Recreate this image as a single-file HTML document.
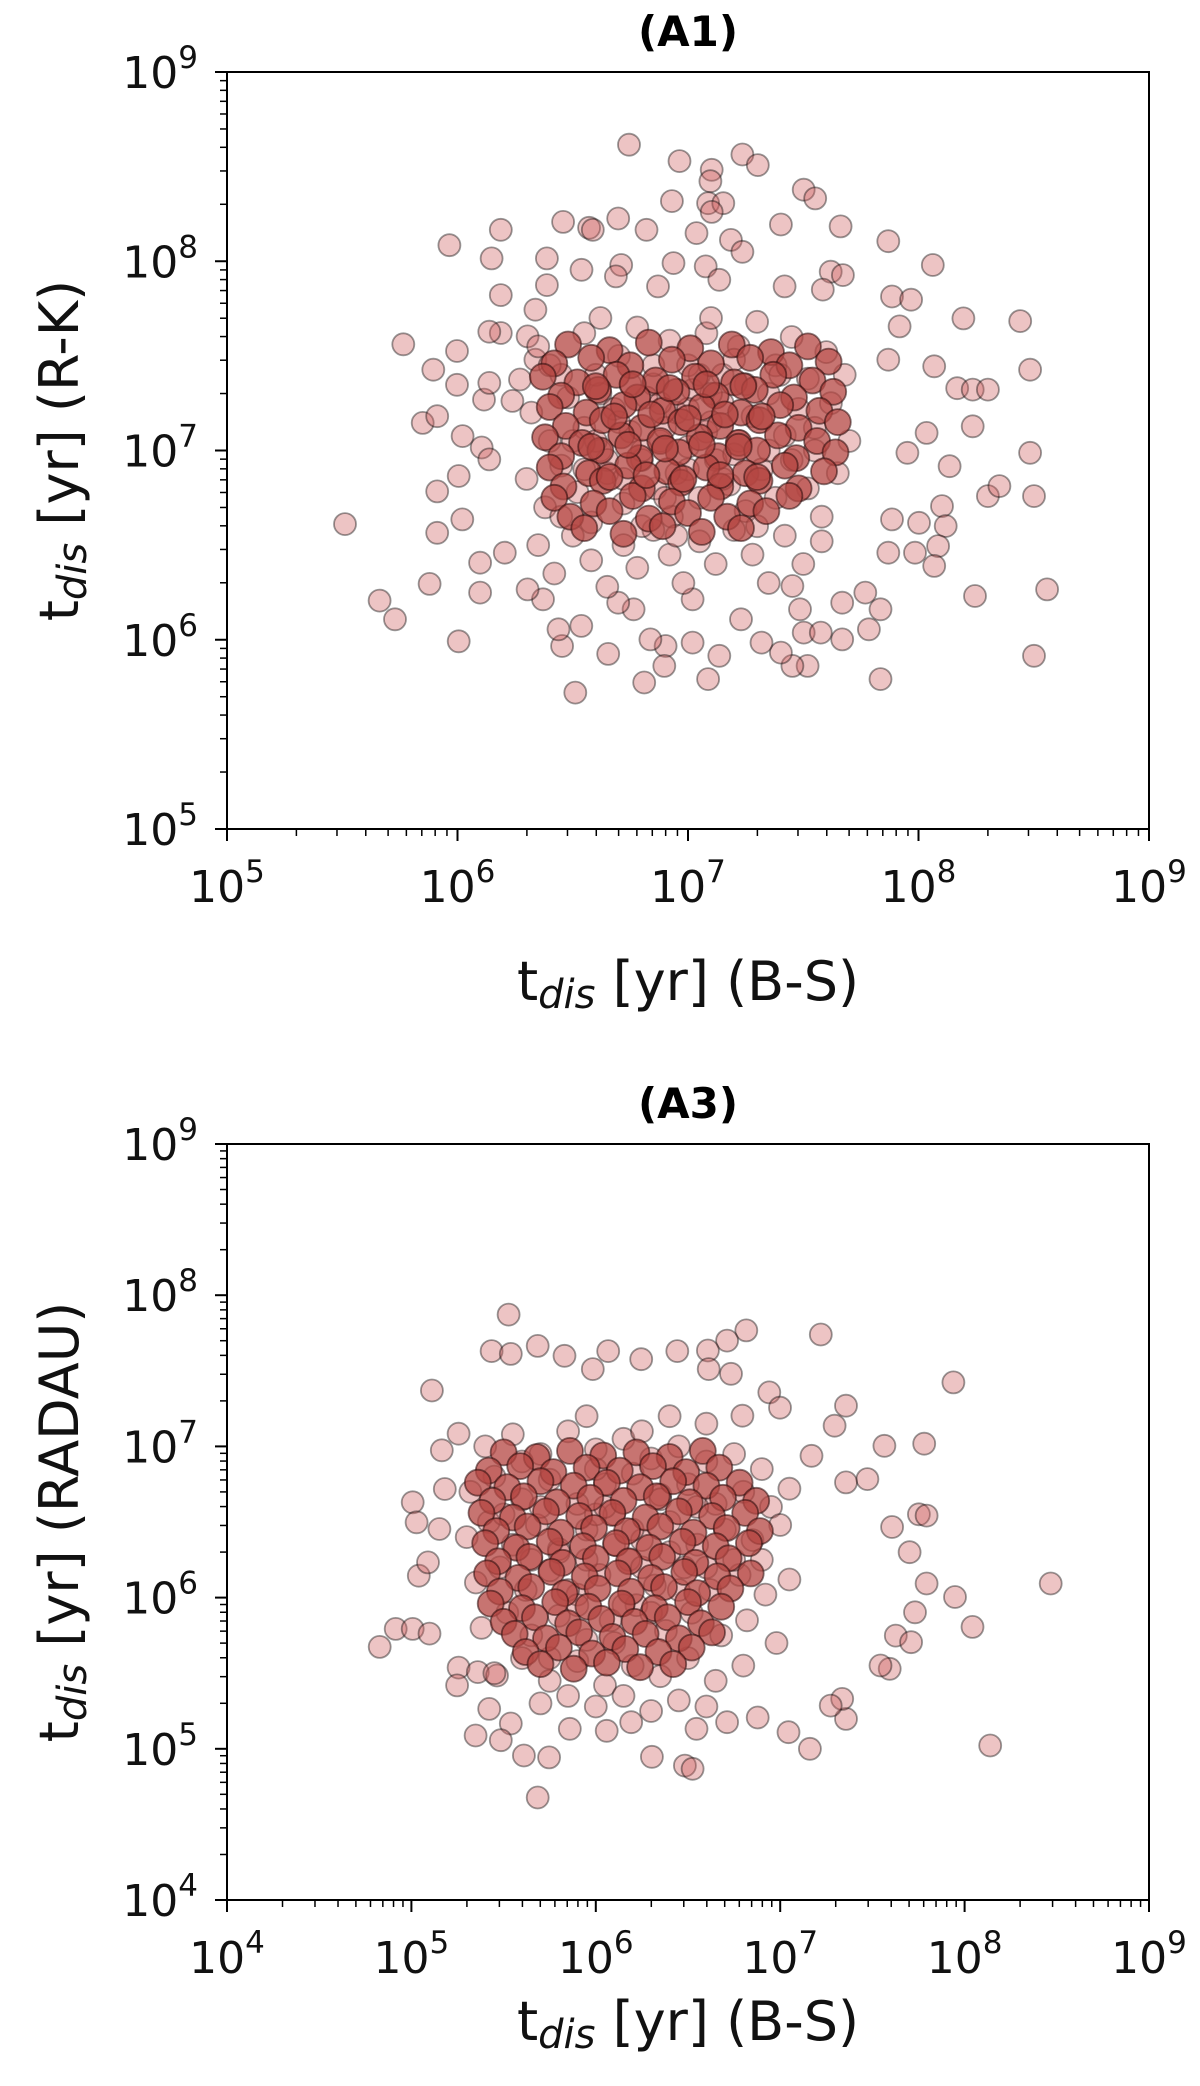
<!DOCTYPE html>
<html><head><meta charset="utf-8">
<style>
html,body{margin:0;padding:0;background:#fff;}
svg{display:block;font-family:"DejaVu Sans","Liberation Sans",sans-serif;}
</style></head>
<body>
<svg id="fig" width="1200" height="2086" viewBox="0 0 1200 2086" xmlns="http://www.w3.org/2000/svg"></svg>
<script>
// ---- Panel A1 data (log10 of t_dis) ----
const a1LogX = [6.744,6.963,7.103,7.236,7.303,7.097,7.502,7.552,6.930,7.087,7.153,7.103,7.403,7.662,6.458,6.571,6.697,6.820,7.037,7.186,7.236,7.869,6.188,5.965,6.148,6.388,6.587,6.710,6.937,7.077,8.062,7.619,7.672,6.188,6.388,6.538,6.687,6.870,7.136,7.419,7.585,7.885,7.968,6.338,5.765,5.998,8.195,8.441,7.918,8.484,7.869,8.168,8.235,8.301,8.068,8.235,8.484,8.501,8.301,8.351,8.135,8.035,7.952,8.102,8.002,8.118,7.885,7.985,8.085,7.869,8.068,8.245,8.558,8.501,7.835,7.785,7.769,7.669,7.835,7.669,7.519,7.502,7.576,7.486,7.453,7.453,7.403,7.319,7.230,7.136,7.087,7.020,7.020,6.903,6.897,6.837,6.810,6.764,6.697,6.654,6.511,6.537,6.454,6.438,6.371,6.304,6.098,6.098,6.205,6.021,5.912,5.912,6.005,5.879,5.662,5.729,5.512,6.005,6.105,6.022,6.138,5.849,5.912,5.998,5.895,6.115,6.138,6.188,6.138,6.238,6.271,6.338,6.304,
6.35,6.45,6.55,6.62,6.70,6.78,6.85,6.92,7.00,7.08,7.15,7.22,7.30,7.38,7.45,7.52,7.60,7.68,
6.32,6.40,6.48,6.55,6.62,6.68,6.75,6.82,6.88,6.95,7.02,7.08,7.15,7.22,7.28,7.35,7.42,7.48,7.55,7.62,7.70,
6.30,6.38,6.45,6.52,6.58,6.65,6.72,6.80,6.86,6.93,7.00,7.05,7.12,7.18,7.25,7.32,7.38,7.45,7.52,7.58,7.65,
6.35,6.42,6.50,6.58,6.65,6.72,6.78,6.85,6.92,6.98,7.05,7.12,7.20,7.28,7.35,7.42,7.50,7.58,
6.60,6.70,6.80,6.90,7.00,7.10,7.20,6.65,6.75,6.95,7.05,7.15,7.25,6.85,6.55,7.35,6.90,7.00,6.72,7.10,6.60,7.40,6.50,7.30,6.80,6.45,7.55,6.40,6.62,7.10,6.95,7.20,6.88];
const a1LogY = [8.616,8.529,8.483,8.564,8.508,8.423,8.378,8.332,8.318,8.307,8.307,8.261,8.194,8.184,8.208,8.177,8.226,8.166,8.149,8.113,8.050,8.106,8.166,8.085,8.015,8.015,8.166,7.980,7.990,7.973,7.980,7.945,7.927,7.821,7.874,7.955,7.920,7.867,7.902,7.867,7.850,7.814,7.797,7.744,7.561,7.526,7.698,7.684,7.656,7.427,7.480,7.329,7.322,7.322,7.445,7.128,6.988,6.759,6.759,6.812,6.917,7.093,6.988,6.706,6.618,6.601,6.636,6.460,6.495,6.460,6.390,6.231,6.266,5.915,6.161,6.055,6.249,6.196,5.792,6.002,5.862,6.038,6.038,6.161,6.284,5.862,5.932,5.985,6.108,5.915,5.792,5.985,6.214,5.967,5.862,6.002,5.774,6.161,6.196,5.925,5.721,6.073,5.967,6.055,6.214,6.266,6.249,6.407,6.460,6.636,6.565,6.784,5.992,6.295,6.207,6.108,6.611,6.865,7.016,7.076,6.953,7.146,7.181,7.347,7.427,7.269,7.357,7.621,7.628,7.262,7.375,7.480,7.603,
7.55,7.40,7.62,7.30,7.50,7.65,7.35,7.58,7.45,7.62,7.40,7.55,7.68,7.45,7.60,7.38,7.52,7.40,
7.20,7.05,7.28,7.12,7.00,7.22,7.10,7.28,7.05,7.20,7.32,7.10,7.25,7.05,7.18,7.30,7.08,7.22,7.12,7.25,7.05,
6.85,6.70,6.92,6.78,6.62,6.88,6.72,6.95,6.80,6.65,6.90,6.75,6.95,6.82,6.68,6.90,6.75,6.95,6.80,6.65,6.88,
6.50,6.35,6.55,6.42,6.28,6.50,6.38,6.58,6.45,6.30,6.52,6.40,6.58,6.45,6.30,6.55,6.40,6.52,
7.05,7.15,7.00,7.12,7.02,7.15,6.98,6.95,7.35,6.88,7.40,6.85,7.35,7.45,6.90,7.00,6.75,7.22,6.85,7.30,7.40,7.40,7.05,6.60,6.60,6.65,7.00,7.45,7.70,7.70,6.55,7.48,7.25];
// dense (heavily overlapped) core of A1
const a1DenseX = [6.48,6.66,6.83,7.01,7.19,7.36,7.52,
6.42,6.58,6.75,6.93,7.10,7.27,7.44,7.61,
6.37,6.52,6.69,6.86,7.03,7.20,7.37,7.54,
6.45,6.61,6.78,6.95,7.12,7.29,7.46,7.63,
6.40,6.56,6.72,6.89,7.06,7.23,7.40,7.57,
6.47,6.63,6.80,6.97,7.14,7.31,7.48,7.65,
6.38,6.54,6.71,6.88,7.05,7.22,7.39,7.56,
6.45,6.62,6.79,6.96,7.13,7.30,7.47,7.64,
6.40,6.57,6.74,6.91,7.08,7.25,7.42,7.59,
6.46,6.63,6.80,6.97,7.14,7.31,7.48,
6.42,6.59,6.76,6.93,7.10,7.27,7.44,
6.49,6.66,6.83,7.00,7.17,7.34,
6.55,6.72,6.89,7.06,7.23,
6.60,6.76,6.92,7.08,7.24,6.68,6.84,7.00,7.16,7.32,6.58,6.74,6.90,7.06,7.22,6.66,6.82,6.98,7.14,7.30];
const a1DenseY = [7.56,7.53,7.57,7.54,7.56,7.52,7.55,
7.46,7.49,7.45,7.48,7.46,7.49,7.45,7.47,
7.39,7.36,7.40,7.37,7.39,7.36,7.40,7.37,
7.29,7.32,7.28,7.31,7.29,7.32,7.28,7.31,
7.23,7.20,7.24,7.21,7.23,7.20,7.24,7.21,
7.13,7.16,7.12,7.15,7.13,7.16,7.12,7.15,
7.07,7.04,7.08,7.05,7.07,7.04,7.08,7.05,
6.97,7.00,6.96,6.99,6.97,7.00,6.96,6.99,
6.91,6.88,6.92,6.89,6.91,6.88,6.92,6.89,
6.81,6.84,6.80,6.83,6.81,6.84,6.80,
6.75,6.72,6.76,6.73,6.75,6.72,6.76,
6.65,6.68,6.64,6.67,6.65,6.68,
6.59,6.56,6.60,6.57,6.59,
7.34,7.35,7.33,7.35,7.34,7.18,7.19,7.17,7.19,7.18,7.02,7.03,7.01,7.03,7.02,6.86,6.87,6.85,6.87,6.86];

// ---- Panel A3 data (log10 of t_dis) ----
const a3LogX = [5.527,7.220,6.816,6.712,5.685,5.435,5.539,5.830,6.067,6.442,6.608,6.246,5.984,6.733,6.612,7.939,5.111,6.941,7.357,6.795,6.999,7.565,7.781,7.473,5.256,5.165,7.607,7.752,7.794,7.702,7.794,7.948,8.467,8.043,7.731,7.627,7.710,7.594,7.544,8.139,7.357,7.336,7.274,7.161,7.045,6.878,6.712,6.546,6.483,6.525,6.304,6.192,6.059,5.859,5.747,5.685,5.610,5.539,5.485,5.348,4.828,4.915,5.007,5.098,5.040,5.090,5.007,5.028,5.181,5.152,5.256,5.248,5.360,5.464,5.422,7.295,7.170,7.357,
5.40,5.55,5.70,5.85,6.00,6.15,6.30,6.45,6.60,6.75,6.90,
5.32,5.45,5.60,5.75,5.90,6.05,6.20,6.35,6.50,6.65,6.80,6.95,7.05,
5.30,5.42,5.55,5.68,5.80,5.95,6.10,6.25,6.40,6.55,6.70,6.85,7.00,
5.35,5.48,5.62,5.75,5.90,6.02,6.18,6.32,6.48,6.62,6.78,6.92,7.05,
5.38,5.52,5.65,5.80,5.95,6.08,6.22,6.38,6.52,6.68,6.82,6.98,
5.45,5.60,5.75,5.90,6.05,6.20,6.35,6.50,6.65,6.80,
5.70,5.85,6.00,6.15,6.30,6.45,6.60,
5.80,5.95,6.10,6.25,6.00,6.15,5.85,6.40,5.70,6.30,6.05,5.65,6.55,5.90,6.20,6.45,5.75,6.10,6.35,6.00,5.60,6.60,6.75,5.50,6.90,6.25,5.95,6.40,6.60];
const a3LogY = [7.872,7.740,7.767,7.700,7.665,7.630,7.612,7.599,7.630,7.630,7.634,7.577,7.511,7.480,7.511,7.423,7.370,7.357,7.269,7.203,7.256,7.004,7.018,6.784,7.084,6.974,6.467,6.551,6.542,6.300,6.093,6.004,6.093,5.806,5.903,5.749,5.705,5.529,5.551,5.022,5.198,5.330,5.286,5.000,5.110,5.207,5.176,5.132,4.889,4.868,4.947,5.176,5.119,5.132,4.943,4.678,4.956,5.167,5.057,5.088,5.674,5.793,5.793,5.762,6.145,6.233,6.630,6.498,6.718,6.454,5.537,5.419,5.507,5.485,5.264,7.137,6.938,6.762,
7.00,7.08,6.95,7.10,6.98,7.05,6.92,7.00,6.90,6.95,6.85,
6.70,6.80,6.65,6.78,6.62,6.75,6.82,6.68,6.75,6.62,6.70,6.60,6.72,
6.40,6.50,6.35,6.48,6.32,6.45,6.55,6.38,6.50,6.35,6.45,6.38,6.48,
6.10,6.20,6.05,6.18,6.02,6.15,6.25,6.08,6.20,6.05,6.15,6.02,6.12,
5.80,5.90,5.75,5.88,5.72,5.85,5.95,5.78,5.90,5.75,5.85,5.70,
5.50,5.60,5.45,5.58,5.42,5.55,5.48,5.60,5.45,5.55,
5.30,5.35,5.28,5.35,5.25,5.32,5.28,
6.30,6.25,6.35,6.20,6.55,5.95,6.05,6.30,6.60,5.90,6.60,6.25,6.60,5.95,6.45,6.05,5.60,5.70,6.65,6.85,6.90,6.20,6.25,6.55,6.25,7.10,7.20,7.20,7.15];
// dense (heavily overlapped) core of A3
const a3DenseX = [5.50,5.68,5.86,6.04,6.22,6.40,6.58,
5.42,5.59,5.77,5.95,6.13,6.31,6.49,6.67,
5.36,5.52,5.70,5.88,6.06,6.24,6.42,6.60,6.78,
5.44,5.61,5.79,5.97,6.15,6.33,6.51,6.69,6.87,
5.38,5.55,5.73,5.91,6.09,6.27,6.45,6.63,6.81,
5.46,5.63,5.81,5.99,6.17,6.35,6.53,6.71,6.89,
5.40,5.57,5.75,5.93,6.11,6.29,6.47,6.65,6.83,
5.47,5.64,5.82,6.00,6.18,6.36,6.54,6.72,
5.41,5.58,5.76,5.94,6.12,6.30,6.48,6.66,6.84,
5.48,5.65,5.83,6.01,6.19,6.37,6.55,6.73,
5.43,5.60,5.78,5.96,6.14,6.32,6.50,6.68,
5.50,5.67,5.85,6.03,6.21,6.39,6.57,
5.56,5.73,5.91,6.09,6.27,6.45,6.63,
5.62,5.80,5.98,6.16,6.34,6.52,
5.70,5.88,6.06,6.24,6.42];
const a3DenseY = [6.96,6.93,6.97,6.94,6.96,6.93,6.97,
6.84,6.87,6.83,6.86,6.84,6.87,6.83,6.86,
6.76,6.73,6.77,6.74,6.76,6.73,6.77,6.74,6.76,
6.64,6.67,6.63,6.66,6.64,6.67,6.63,6.66,6.64,
6.56,6.53,6.57,6.54,6.56,6.53,6.57,6.54,6.56,
6.44,6.47,6.43,6.46,6.44,6.47,6.43,6.46,6.44,
6.36,6.33,6.37,6.34,6.36,6.33,6.37,6.34,6.36,
6.24,6.27,6.23,6.26,6.24,6.27,6.23,6.26,
6.16,6.13,6.17,6.14,6.16,6.13,6.17,6.14,6.16,
6.04,6.07,6.03,6.06,6.04,6.07,6.03,6.06,
5.96,5.93,5.97,5.94,5.96,5.93,5.97,5.94,
5.84,5.87,5.83,5.86,5.84,5.87,5.83,
5.76,5.73,5.77,5.74,5.76,5.73,5.77,
5.64,5.67,5.63,5.66,5.64,5.67,
5.56,5.53,5.57,5.54,5.56];

const xTickExpA1 = [5,6,7,8,9];
const yTickExpA1 = [5,6,7,8,9];
const xTickExpA3 = [4,5,6,7,8,9];
const yTickExpA3 = [4,5,6,7,8,9];

const NS = 'http://www.w3.org/2000/svg';
const svg = document.getElementById('fig');
function mk(tag, attrs, parent){
  const e = document.createElementNS(NS, tag);
  for (const k in attrs) e.setAttribute(k, attrs[k]);
  (parent||svg).appendChild(e);
  return e;
}

function panel(cfg){
  const g = mk('g', {});
  
  
  const L=227, R=1149, T=cfg.top, B=cfg.bottom;
  const sx = v => L + (v - cfg.xMin) / (cfg.xMax - cfg.xMin) * (R - L);
  const sy = v => B - (v - cfg.yMin) / (cfg.yMax - cfg.yMin) * (B - T);

  const pg = mk('g', {}, g);
  
  
  for (let i = 0; i < cfg.xs.length; i++) {
    const c = mk('circle', {cx: sx(cfg.xs[i]).toFixed(1), cy: sy(cfg.ys[i]).toFixed(1), r: 11,
      fill: 'rgb(205,92,92)', 'fill-opacity': 0.36, stroke: '#000', 'stroke-opacity': 0.4, 'stroke-width': 1.8}, pg);
    
    
  }
  const dg = mk('g', {}, g);
  
  
  for (let i = 0; i < cfg.dx.length; i++) {
    const c = mk('circle', {cx: sx(cfg.dx[i]).toFixed(1), cy: sy(cfg.dy[i]).toFixed(1), r: 13,
      fill: 'rgb(180,70,66)', 'fill-opacity': 0.75, stroke: 'rgb(40,10,10)', 'stroke-opacity': 0.55, 'stroke-width': 1.8}, dg);
    
    
  }

  const fr = mk('rect', {x: L, y: T, width: R-L, height: B-T, fill: 'none', stroke: '#000', 'stroke-width': 2}, g);
  
  

  for (let e = cfg.xMin; e <= cfg.xMax; e++) {
    const x = sx(e);
    mk('line', {x1: x, y1: B, x2: x, y2: B + 12, stroke: '#000', 'stroke-width': 2}, g);
    if (e < cfg.xMax) for (let m = 2; m < 10; m++) {
      const xm = sx(e + Math.log10(m));
      mk('line', {x1: xm, y1: B, x2: xm, y2: B + 7, stroke: '#000', 'stroke-width': 1.5}, g);
    }
  }
  cfg.xTicks.forEach(e => {
    const t = mk('text', {x: sx(e), y: B + 73, 'font-size': 44, 'text-anchor': 'middle', fill: '#111'}, g);
    
    
    t.innerHTML = '10<tspan dy="-20" font-size="31">' + e + '</tspan>';
  });
  for (let e = cfg.yMin; e <= cfg.yMax; e++) {
    const y = sy(e);
    mk('line', {x1: L, y1: y, x2: L - 12, y2: y, stroke: '#000', 'stroke-width': 2}, g);
    if (e < cfg.yMax) for (let m = 2; m < 10; m++) {
      const ym = sy(e + Math.log10(m));
      mk('line', {x1: L, y1: ym, x2: L - 7, y2: ym, stroke: '#000', 'stroke-width': 1.5}, g);
    }
  }
  cfg.yTicks.forEach(e => {
    const t = mk('text', {x: 198, y: sy(e) + 16, 'font-size': 44, 'text-anchor': 'end', fill: '#111'}, g);
    
    
    t.innerHTML = '10<tspan dy="-20" font-size="31">' + e + '</tspan>';
  });

  const ti = mk('text', {x: (L+R)/2, y: cfg.titleY, 'font-size': 42, 'font-weight': 'bold', 'text-anchor': 'middle', fill: '#000'}, g);
  
  
  ti.textContent = cfg.title;

  const xl = mk('text', {x: (L+R)/2, y: cfg.xLabelY, 'font-size': 54, 'text-anchor': 'middle', fill: '#111'}, g);
  
  
  xl.innerHTML = 't<tspan font-style="italic" font-size="40" dy="8">dis</tspan><tspan dy="-8"> [yr] (B-S)</tspan>';

  const cy = (T+B)/2;
  const yl = mk('text', {x: 0, y: 0, 'font-size': 54, 'text-anchor': 'middle', fill: '#111',
    transform: 'translate(78,' + cy + ') rotate(-90)'}, g);
  
  
  yl.innerHTML = 't<tspan font-style="italic" font-size="40" dy="8">dis</tspan><tspan dy="-8"> [yr] (' + cfg.yMethod + ')</tspan>';
}

panel({name: 'panel-a1', title: '(A1)', top: 72, bottom: 829, xMin: 5, xMax: 9, yMin: 5, yMax: 9,
  xs: a1LogX, ys: a1LogY, dx: a1DenseX, dy: a1DenseY, xTicks: xTickExpA1, yTicks: yTickExpA1, titleY: 46, xLabelY: 1000, yMethod: 'R-K'});
panel({name: 'panel-a3', title: '(A3)', top: 1144, bottom: 1900, xMin: 4, xMax: 9, yMin: 4, yMax: 9,
  xs: a3LogX, ys: a3LogY, dx: a3DenseX, dy: a3DenseY, xTicks: xTickExpA3, yTicks: yTickExpA3, titleY: 1118, xLabelY: 2040, yMethod: 'RADAU'});
</script>
</body></html>
